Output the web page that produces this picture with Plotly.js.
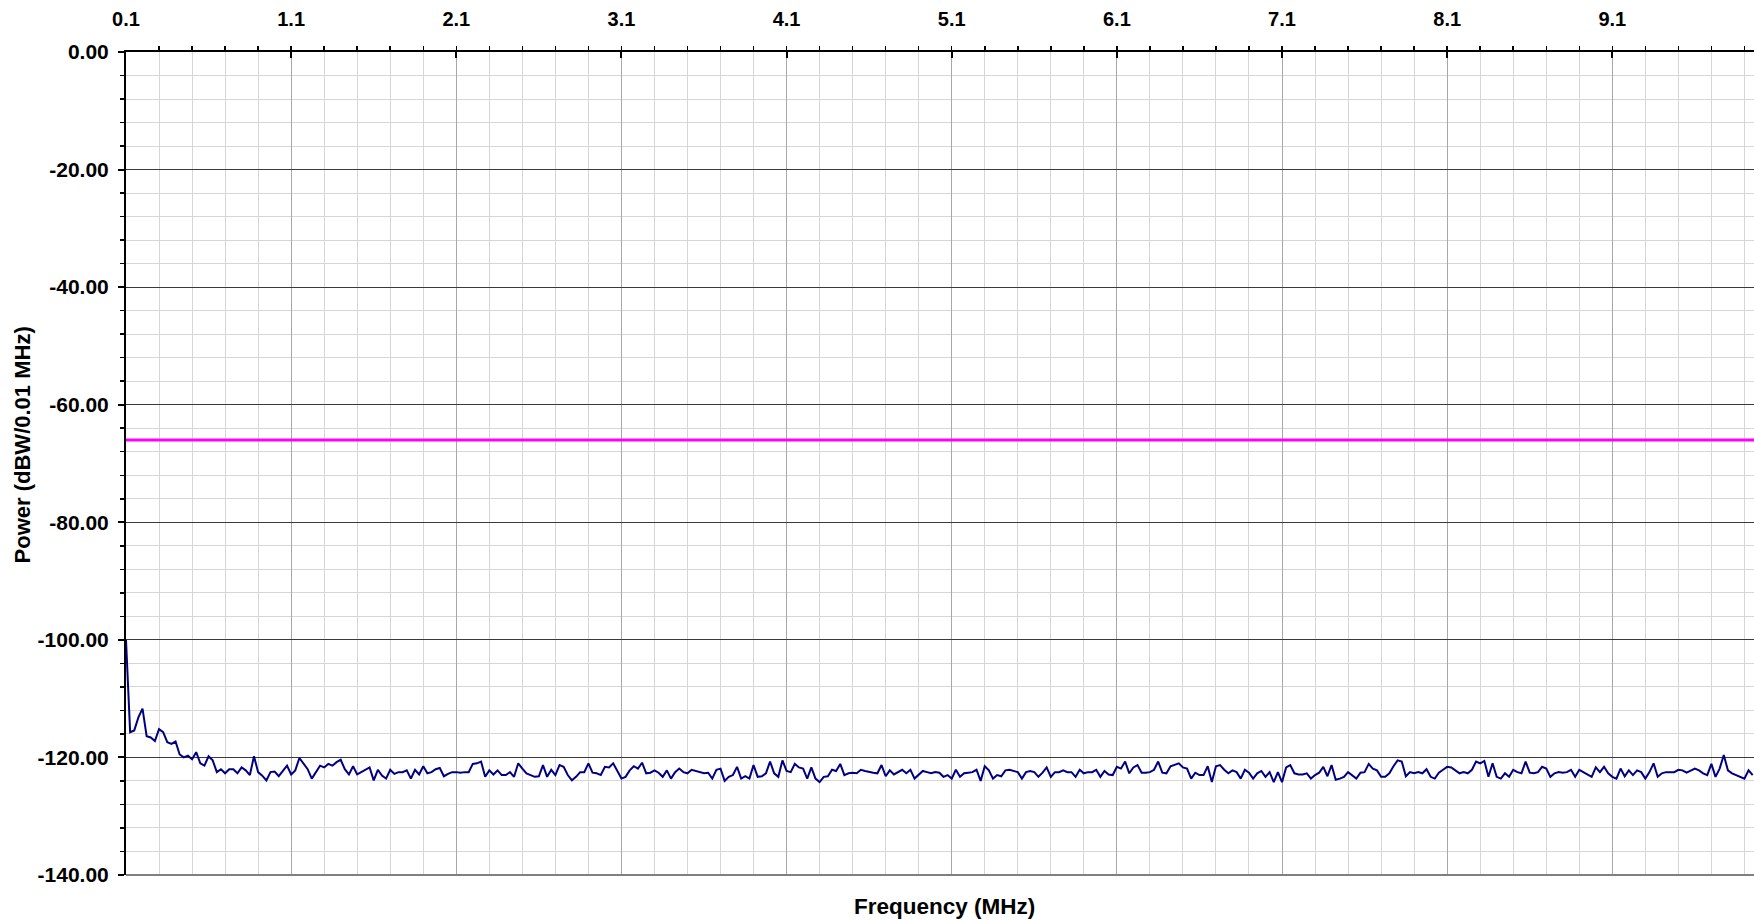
<!DOCTYPE html>
<html>
<head>
<meta charset="utf-8">
<script src="https://cdn.plot.ly/plotly-3.0.1.min.js"></script>
<style>html,body{margin:0;padding:0;background:#fff;}#chart{width:1754px;height:920px;}</style>
</head>
<body>
<div id="chart"></div>
<script>
// Frequency axis of the spectrum samples (MHz)
const freqStart = 0.1;
const freqStep = 0.025;

const powerDbw = [
-100,-115.7,-115.4,-113.2,-111.7,-116.4,-116.6,-117.2,-115.2,-115.7,
-117.4,-117.7,-117.3,-119.5,-120,-119.7,-120.3,-119.1,-121,-121.4,
-119.8,-120.5,-122.5,-122,-122.7,-122,-122,-122.7,-121.7,-122.2,
-123,-119.8,-122.5,-123.1,-123.9,-122.5,-122.4,-123.2,-122.3,-121.4,
-122.9,-122.2,-120.1,-121,-122,-123.6,-122.5,-121.4,-121.7,-121.1,
-121.4,-120.8,-120.4,-122,-122.9,-121.5,-122.9,-122.5,-122.1,-121.7,
-123.9,-122.1,-123.1,-123.6,-122.1,-122.8,-122.5,-122.5,-122.2,-123.6,
-122.1,-122.9,-121.5,-122.7,-122.5,-122,-121.8,-123.2,-122.8,
-122.5,-122.5,-122.6,-122.5,-122.5,-121.1,-121,-120.7,-123.3,-122.2,
-122.9,-122.2,-123,-123,-122.5,-123.3,-121,-121.9,-122.7,-123,
-123.3,-123.2,-121.3,-123.3,-122.1,-123,-121.3,-121.6,-123,-123.9,
-123.3,-122.5,-122.5,-121,-122.6,-122.7,-123,-121.6,-121.7,-121,
-122.2,-123.6,-123.3,-122.2,-121.5,-121.9,-120.9,-122.7,-122.6,-122.2,
-122.6,-123.3,-122.2,-123.6,-122.5,-121.9,-122.5,-122.7,-122.1,-122.3,
-122.6,-122.7,-122.6,-123.6,-122.1,-121.9,-124,-123.3,-123,-121.6,
-123.6,-123.2,-123.6,-121.3,-123.3,-123.2,-122.7,-120.7,-122.7,
-123.3,-120.5,-122.3,-122.5,-121.1,-121.7,-121.9,-123.6,-121.7,-123.6,
-124.2,-123.3,-123.2,-122.1,-122.3,-121.1,-123,-122.7,-122.6,-122.7,
-122.1,-122.3,-122.5,-122.6,-122.7,-121.3,-123.2,-122.2,-122.9,-122.5,
-122.1,-122.7,-122.1,-123.6,-123,-122.3,-122.5,-122.7,-122.5,-122.6,
-123.3,-123,-123.6,-122.1,-123.3,-122.7,-122.6,-122.5,-122.1,-124,
-121.5,-122.2,-123.6,-123,-123.2,-122.2,-122.1,-122.3,-122.5,-123.6,
-122.5,-122.3,-122.5,-123.3,-122.6,-121.7,-123.3,-122.5,-122.5,-122.2,
-122.5,-122.5,-123.3,-122.1,-122.7,-122.5,-122.5,-122.1,-123.3,
-122.3,-122.9,-123,-121.6,-121.9,-120.7,-122.7,-121.7,-121.3,-122.6,
-122.6,-122.5,-122.1,-120.7,-122.6,-122.7,-121.5,-121.3,-121,-121.7,
-121.9,-123.6,-122.6,-123,-123,-121.5,-124.2,-121.5,-121.3,-122.1,
-122.7,-122.2,-122.5,-123.6,-122.1,-122.6,-123.6,-122.7,-122.3,-123.3,
-122.5,-124.2,-122.5,-124.2,-121.7,-121.3,-122.7,-122.9,-122.9,-122.7,
-123.6,-123,-122.6,-121.6,-123.2,-121.3,-123.8,-123.6,-123.3,-122.5,
-123,-123.6,-122.6,-122.5,-121.1,-121.9,-122.2,-123.3,-123.3,-122.7,
-121.5,-120.5,-120.7,-123.2,-122.5,-122.7,-122.5,-122.7,
-122,-123.3,-123.6,-122.6,-122.1,-121.6,-121.7,-122.2,-122.7,-122.5,
-122.7,-122.1,-120.7,-121,-120.6,-123.3,-121,-123.3,-123.6,-122.7,
-123.3,-122.1,-122.5,-122.7,-120.7,-122.6,-122.7,-122.5,-121.6,-121.9,
-123.3,-122.7,-122.5,-122.6,-122.5,-122.1,-123.3,-122.1,-122.5,-123,
-123.3,-121.7,-122.5,-121.6,-122.7,-123.3,-123.6,-121.9,-123.2,-122.2,
-123,-122.2,-122.5,-123.6,-122.5,-121,-123.3,-122.7,-122.5,-122.5,
-122.5,-122.1,-122.2,-122.6,-122.3,-121.9,-122.2,-122.7,-123,-121.1,
-123.3,-121.9,-119.6,-122.2,-122.7,-123,-123.2,-123.6,-122.2,-123
];

// Limit line
const limitFreq = [0.1, 10];
const limitPower = [-66, -66];

// Tick labels
const xTickStart = 0.1;
const yTickVals = [0, -20, -40, -60, -80, -100, -120, -140];
const yTickText = ['0.00', '-20.00', '-40.00', '-60.00', '-80.00', '-100.00', '-120.00', '-140.00'];
const yTitleText = 'Power (dBW/0.01 MHz)';
const xTitleText = 'Frequency (MHz)';

const fontFam = 'Liberation Sans, Arial, sans-serif';

const traces = [
  {
    type: 'scatter', mode: 'lines',
    x0: freqStart, dx: freqStep, y: powerDbw,
    line: {color: '#000080', width: 2},
    hoverinfo: 'x+y', showlegend: false
  },
  {
    type: 'scatter', mode: 'lines',
    x: limitFreq, y: limitPower,
    line: {color: '#ff00ff', width: 3},
    showlegend: false
  }
];

const layout = {
  width: 1754, height: 920,
  margin: {l: 126, r: 0, t: 52, b: 45},
  paper_bgcolor: '#ffffff', plot_bgcolor: '#ffffff',
  font: {family: fontFam, color: '#000'},
  xaxis: {
    side: 'top',
    range: [0.1, 9.958],
    tick0: xTickStart, dtick: 1, tickformat: '.1f',
    showgrid: true, gridcolor: '#a8a8a8', gridwidth: 1,
    zeroline: false,
    showline: true, linecolor: '#000', linewidth: 2,
    ticks: 'inside', ticklen: 6, tickcolor: '#000', tickwidth: 2,
    ticklabelstandoff: 16,
    tickfont: {family: fontFam, size: 20, weight: 'bold', color: '#000'},
    minor: {tick0: xTickStart, dtick: 0.2, showgrid: true, gridcolor: '#d6d6d6', gridwidth: 1,
            ticks: 'outside', ticklen: 4, tickcolor: '#000', tickwidth: 1.5},
    fixedrange: true
  },
  yaxis: {
    range: [-140, 0],
    tickmode: 'array', tickvals: yTickVals, ticktext: yTickText,
    showgrid: true, gridcolor: '#3a3a3a', gridwidth: 1,
    zeroline: false,
    showline: true, linecolor: '#000', linewidth: 2,
    ticks: 'outside', ticklen: 6, tickcolor: '#000', tickwidth: 2,
    ticklabelstandoff: 5,
    tickfont: {family: fontFam, size: 21, weight: 'bold', color: '#000'},
    minor: {tick0: 0, dtick: 4, showgrid: true, gridcolor: '#d6d6d6', gridwidth: 1,
            ticks: 'outside', ticklen: 4, tickcolor: '#000', tickwidth: 1.5},
    fixedrange: true
  },
  shapes: [
    {type: 'line', xref: 'paper', yref: 'paper', x0: 0, x1: 1, y0: 0, y1: 0,
     line: {color: '#808080', width: 2}}
  ],
  annotations: [
    {text: yTitleText, xref: 'paper', yref: 'paper', x: -0.063, y: 0.5225,
     xanchor: 'center', yanchor: 'middle', textangle: -90, showarrow: false,
     font: {family: fontFam, size: 22, weight: 'bold', color: '#000'}},
    {text: xTitleText, xref: 'paper', yref: 'paper', x: 0.503, y: -0.0377,
     xanchor: 'center', yanchor: 'middle', showarrow: false,
     font: {family: fontFam, size: 22.5, weight: 'bold', color: '#000'}}
  ]
};

Plotly.newPlot('chart', traces, layout, {displayModeBar: false, staticPlot: true});
</script>
</body>
</html>
